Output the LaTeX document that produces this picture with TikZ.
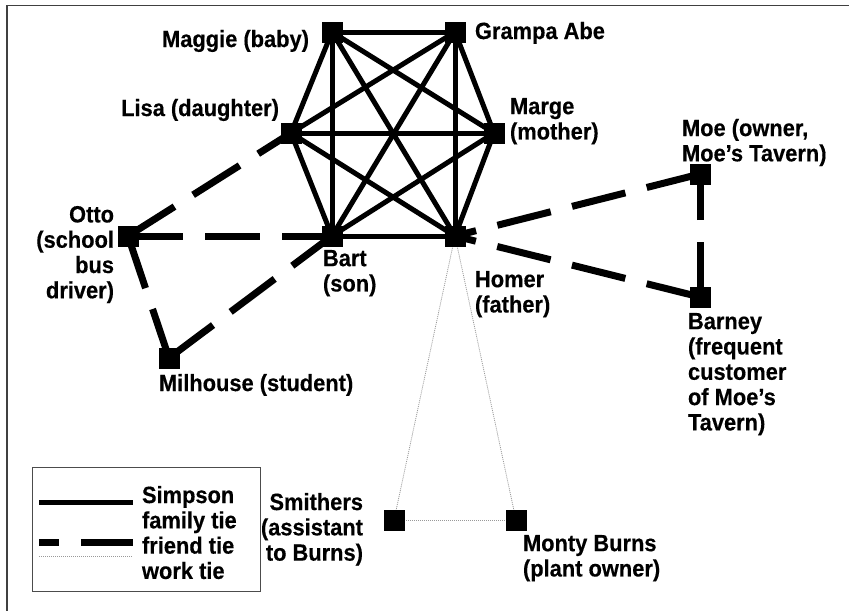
\documentclass[tikz,border=0pt]{standalone}
\usepackage{fontspec}
\setmainfont{Liberation Sans}[FakeStretch=0.93,BoldFeatures={FakeBold=0.4}]
\usetikzlibrary{backgrounds}
\begin{document}
\begin{tikzpicture}[x=1pt,y=-1pt,
  person/.style={draw=none,fill=black,minimum size=21pt,inner sep=0pt,outer sep=0pt,rectangle},
  lbl/.style={inner sep=0pt,outer sep=0pt,font=\fontsize{23.5}{25.3}\selectfont\bfseries},
  family/.style={line width=5pt,black},
  friend/.style={line width=7pt,black,dash pattern=on 55pt off 22pt},
  work/.style={line width=0.8pt,gray!80,dash pattern=on 1pt off 1pt},
  frameline/.style={line width=1.5pt,black!75},
  legendbox/.style={draw=black!70,line width=1pt}]
\useasboundingbox (0,0) rectangle (849,611);
% frame (top and left edges)
\draw[frameline] (849,5.5) -- (7,5.5) -- (7,611);
% people
\node[person] (maggie) at (332,32) {};
\node[person] (grampa) at (455,32) {};
\node[person] (lisa) at (291,133) {};
\node[person] (marge) at (494,133) {};
\node[person] (bart) at (332,236) {};
\node[person] (homer) at (455,236) {};
\node[person] (otto) at (128,236) {};
\node[person] (milhouse) at (169,358) {};
\node[person] (moe) at (700,174) {};
\node[person] (barney) at (700,297) {};
\node[person] (smithers) at (394,520) {};
\node[person] (monty) at (516,520) {};
% labels
\node[lbl,anchor=north east,align=right] (lmaggie) at (309,30) {Maggie (baby)};
\node[lbl,anchor=north west,align=left] (lgrampa) at (475,22) {Grampa Abe};
\node[lbl,anchor=north east,align=right] (llisa) at (279,99) {Lisa (daughter)};
\node[lbl,anchor=north west,align=left] (lmarge) at (510,98) {Marge\\(mother)};
\node[lbl,anchor=north west,align=left] (lmoe) at (682,119) {Moe (owner,\\Moe’s Tavern)};
\node[lbl,anchor=north east,align=right] (lotto) at (114,206) {Otto\\(school\\bus\\driver)};
\node[lbl,anchor=north west,align=left] (lbart) at (323,250) {Bart\\(son)};
\node[lbl,anchor=north west,align=left] (lhomer) at (475,271) {Homer\\(father)};
\node[lbl,anchor=north west,align=left] (lbarney) at (688,313) {Barney\\(frequent\\customer\\of Moe’s\\Tavern)};
\node[lbl,anchor=north west,align=left] (lmilhouse) at (159,374) {Milhouse (student)};
\node[lbl,anchor=north east,align=right] (lsmithers) at (363,493) {Smithers\\(assistant\\to Burns)};
\node[lbl,anchor=north west,align=left] (lmonty) at (523,535) {Monty Burns\\(plant owner)};
% legend
\node[legendbox,anchor=north west,minimum width=228pt,minimum height=124pt,inner sep=0pt] (legend) at (32,467) {};
\node[lbl,anchor=north west,align=left] (legendtext) at (142,486) {Simpson\\family tie\\friend tie\\work tie};
\coordinate (fa) at (39,502); \coordinate (fb) at (133,502);
\coordinate (da) at (39,542); \coordinate (db) at (133,542);
\coordinate (wa) at (39,556); \coordinate (wb) at (133,556);
\begin{pgfonlayer}{background}
% family ties
\foreach \a/\b in {maggie/grampa,maggie/lisa,maggie/marge,maggie/bart,maggie/homer,
  grampa/lisa,grampa/marge,grampa/bart,grampa/homer,
  lisa/marge,lisa/bart,lisa/homer,
  marge/bart,marge/homer,
  bart/homer}
  \draw[family] (\a.center) -- (\b.center);
% friend ties
\draw[friend] (otto.center) -- (lisa.center);
\draw[friend] (otto.center) -- (bart.center);
\draw[friend] (otto.center) -- (milhouse.center);
\draw[friend] (milhouse.center) -- (bart.center);
\draw[friend] (moe.center) -- (homer.center);
\draw[friend] (barney.center) -- (homer.center);
\draw[friend] (barney.center) -- (moe.center);
% work ties
\draw[work] (homer.center) -- (smithers.center);
\draw[work] (homer.center) -- (monty.center);
\draw[work] (smithers.center) -- (monty.center);
\end{pgfonlayer}
% legend samples
\draw[family] (fa) -- (fb);
\draw[line width=7pt,black,dash pattern=on 20pt off 22pt on 55pt] (da) -- (db);
\draw[work] (wa) -- (wb);
\end{tikzpicture}
\end{document}
